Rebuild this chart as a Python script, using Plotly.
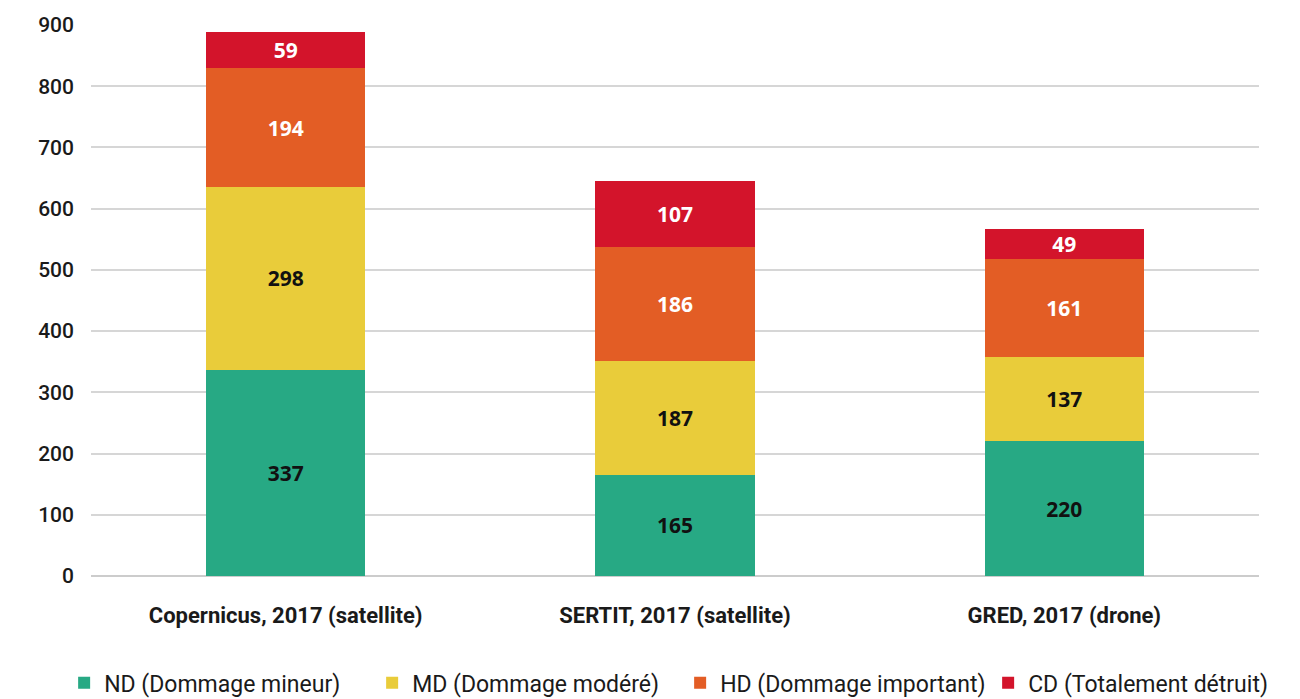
import plotly.graph_objects as go

categories = ["Copernicus, 2017 (satellite)", "SERTIT, 2017 (satellite)", "GRED, 2017 (drone)"]
series_names = ["ND (Dommage mineur)", "MD (Dommage modéré)", "HD (Dommage important)", "CD (Totalement détruit)"]
nd_values = [337, 165, 220]
md_values = [298, 187, 137]
hd_values = [194, 186, 161]
cd_values = [59, 107, 49]
y_ticks = [0, 100, 200, 300, 400, 500, 600, 700, 800, 900]

colors = ["#27a984", "#e9cc3a", "#e35d25", "#d3142b"]
text_colors = ["#111111", "#111111", "#ffffff", "#ffffff"]

fig = go.Figure()
for name, vals, col, tcol in zip(series_names, [nd_values, md_values, hd_values, cd_values], colors, text_colors):
    fig.add_trace(go.Bar(
        x=categories, y=vals, name=name,
        marker=dict(color=col, line=dict(width=0)),
        text=[str(v) for v in vals], textposition="inside", insidetextanchor="middle",
        textangle=0,
        textfont=dict(family="Open Sans", size=21, color=tcol, weight="bold"),
        constraintext="none",
    ))

fig.update_layout(
    barmode="stack",
    bargap=0.59,
    width=1300, height=699,
    margin=dict(l=83, r=49, t=17, b=131, autoexpand=False),
    paper_bgcolor="white", plot_bgcolor="white",
    font=dict(family="Roboto", color="#1a1a1a"),
    showlegend=True,
    legend=dict(orientation="h", x=-0.023, xanchor="left", y=-0.194, yanchor="middle",
                font=dict(family="Roboto", size=23, color="#1a1a1a"),
                itemwidth=30, traceorder="normal",
                entrywidth=263, entrywidthmode="pixels"),
    uniformtext=dict(mode="show", minsize=10),
)
fig.update_yaxes(range=[0, 900], tickvals=y_ticks, showgrid=True, gridcolor="#d6d6d6", gridwidth=1.5,
                 zeroline=True, zerolinecolor="#cccccc", zerolinewidth=1.5,
                 tickfont=dict(family="Roboto", size=21, color="#1a1a1a", weight=500),
                 ticklabelstandoff=16, showline=False, automargin=False)
fig.update_xaxes(tickfont=dict(family="Roboto", size=22, color="#1a1a1a", weight="bold"),
                 ticklabelstandoff=24, showline=False, automargin=False)

fig.write_html("out.html")
